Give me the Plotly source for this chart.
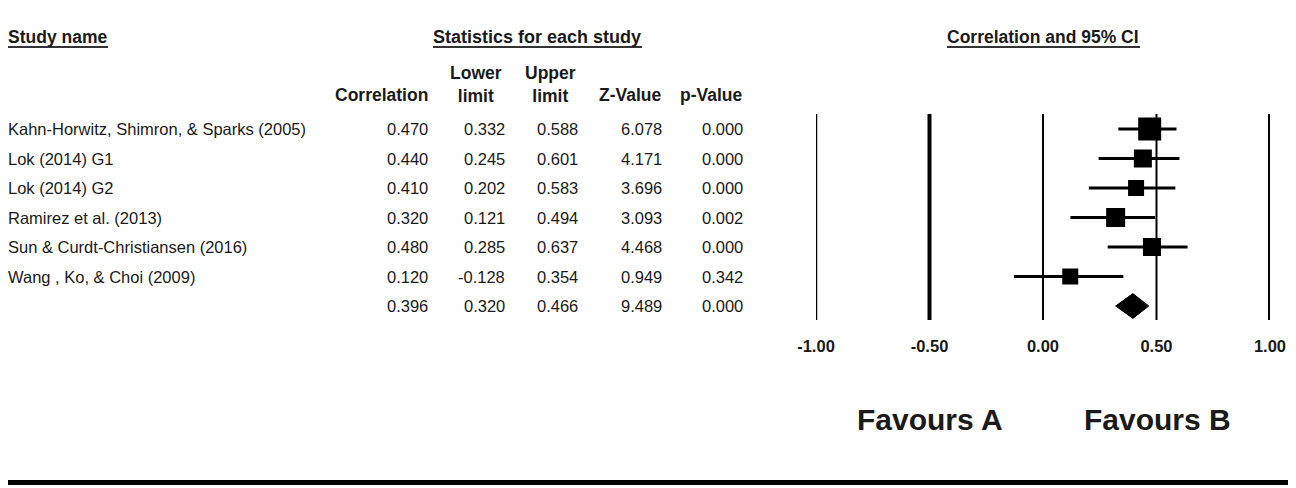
import plotly.graph_objects as go

# ---- data ----
study_names = [
    "Kahn-Horwitz, Shimron, & Sparks (2005)",
    "Lok (2014) G1",
    "Lok (2014) G2",
    "Ramirez et al. (2013)",
    "Sun & Curdt-Christiansen (2016)",
    "Wang , Ko, & Choi (2009)",
]
correlation = [0.470, 0.440, 0.410, 0.320, 0.480, 0.120]
lower_limit = [0.332, 0.245, 0.202, 0.121, 0.285, -0.128]
upper_limit = [0.588, 0.601, 0.583, 0.494, 0.637, 0.354]
z_value = [6.078, 4.171, 3.696, 3.093, 4.468, 0.949]
p_value = [0.000, 0.000, 0.000, 0.002, 0.000, 0.342]

summary_corr = 0.396
summary_lower = 0.320
summary_upper = 0.466
summary_z = 9.489
summary_p = 0.000

axis_ticks = [-1.0, -0.5, 0.0, 0.5, 1.0]
axis_tick_labels = ["-1.00", "-0.50", "0.00", "0.50", "1.00"]
favours_labels = ["Favours A", "Favours B"]

# ---- styling / layout ----
# the page body has an 8px margin, so the figure is 8px smaller on each
# axis and every position below is given in page pixels minus that offset
OFF = 8
W, H = 1296 - OFF, 488 - OFF
FONT = "Liberation Sans, Arial, sans-serif"
TXT = "#1a1a1a"
BODY = 16.5
HEAD = 17.5
box_sizes = [23, 18, 16, 19, 18, 16]
line_widths = [2.5, 4, 2, 2, 4]


def px(x):
    return (x - OFF) / W


def py(y):
    return 1 - (y - OFF) / H


rows = list(range(1, len(study_names) + 1))
summary_row = len(study_names) + 1

fig = go.Figure()

# CI whiskers + study boxes
fig.add_trace(go.Scatter(
    x=correlation, y=rows, mode="markers",
    marker=dict(symbol="square", size=box_sizes, color="black", opacity=1,
                line=dict(width=0)),
    error_x=dict(
        type="data", symmetric=False,
        array=[u - c for u, c in zip(upper_limit, correlation)],
        arrayminus=[c - l for c, l in zip(correlation, lower_limit)],
        color="black", thickness=3, width=0,
    ),
    hoverinfo="skip", showlegend=False,
))

# summary diamond
dh = 0.42
fig.add_trace(go.Scatter(
    x=[summary_lower, summary_corr, summary_upper, summary_corr, summary_lower],
    y=[summary_row, summary_row - dh, summary_row, summary_row + dh, summary_row],
    mode="lines", fill="toself", fillcolor="black",
    line=dict(color="black", width=1), hoverinfo="skip", showlegend=False,
))

shapes = []
for t, w in zip(axis_ticks, line_widths):
    shapes.append(dict(type="line", xref="x", yref="y domain", x0=t, x1=t, y0=0, y1=1,
                       line=dict(color="black", width=w), layer="below"))

# underlines of the section headers
for x0, x1 in [(8, 108), (433, 642), (947, 1140)]:
    shapes.append(dict(type="line", xref="paper", yref="paper",
                       x0=px(x0), x1=px(x1), y0=py(47), y1=py(47),
                       line=dict(color="#333333", width=2)))
# bottom frame line
shapes.append(dict(type="line", xref="paper", yref="paper", x0=0, x1=1,
                   y0=py(482.5), y1=py(482.5), line=dict(color="black", width=5)))

ann = []


def add_text(text, x, y, anchor="left", size=BODY, bold=False, yref="paper"):
    if bold:
        text = f"<b>{text}</b>"
    ann.append(dict(text=text, x=px(x), y=y if yref == "y" else py(y), xref="paper", yref=yref,
                    xanchor=anchor, yanchor="middle", showarrow=False,
                    font=dict(family=FONT, size=size, color=TXT)))


# section headers
add_text("Study name", 6, 37, size=HEAD, bold=True)
add_text("Statistics for each study", 431, 37, size=18, bold=True)
add_text("Correlation and 95% CI", 945, 37, size=HEAD, bold=True)

# column headers
add_text("Correlation", 430, 95, anchor="right", size=HEAD, bold=True)
add_text("Lower<br>limit", 476, 84, anchor="center", size=HEAD, bold=True)
add_text("Upper<br>limit", 550, 84, anchor="center", size=HEAD, bold=True)
add_text("Z-Value", 664, 95, anchor="right", size=HEAD, bold=True)
add_text("p-Value", 745, 95, anchor="right", size=HEAD, bold=True)

col_right = [430, 507, 580, 664, 745]
all_names = study_names + [""]
all_cols = [
    correlation + [summary_corr],
    lower_limit + [summary_lower],
    upper_limit + [summary_upper],
    z_value + [summary_z],
    p_value + [summary_p],
]
for i, name in enumerate(all_names):
    r = i + 1
    if name:
        add_text(name, 6, r, yref="y")
    for xr, col in zip(col_right, all_cols):
        add_text(f"{col[i]:.3f}", xr, r, anchor="right", yref="y")

# favours labels
add_text(favours_labels[0], 930, 419, anchor="center", size=30, bold=True)
add_text(favours_labels[1], 1157, 419, anchor="center", size=30, bold=True)

# row 1 sits at y=129 px, rows are 29.5 px apart, lines run 114..320 px
y_top = 1 + (114 - 129) / 29.5
y_bot = 1 + (320 - 129) / 29.5

fig.update_layout(
    width=W, height=H,
    margin=dict(l=0, r=0, t=0, b=0, autoexpand=False),
    paper_bgcolor="white", plot_bgcolor="white",
    showlegend=False,
    shapes=shapes, annotations=ann,
    xaxis=dict(
        domain=[px(816), px(1270)], range=[-1, 1], automargin=False,
        showgrid=False, zeroline=False, showline=False, ticks="",
        tickmode="array", tickvals=axis_ticks,
        ticktext=[f"<b>{t}</b>" for t in axis_tick_labels],
        tickfont=dict(family=FONT, size=16.5, color=TXT),
        ticklabelstandoff=14, fixedrange=True,
    ),
    yaxis=dict(
        domain=[py(320), py(114)], range=[y_bot, y_top], automargin=False,
        visible=False, fixedrange=True,
    ),
)

fig.write_html("out.html")
